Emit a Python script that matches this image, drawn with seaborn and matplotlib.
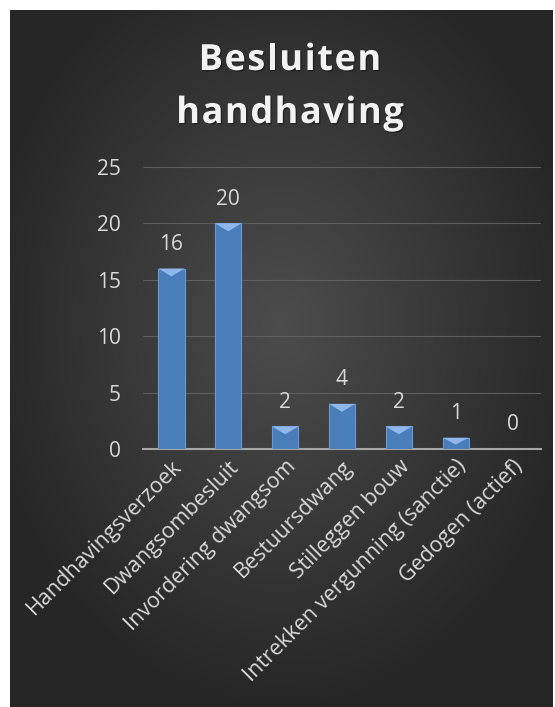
import numpy as np
import pandas as pd
import seaborn as sns
import matplotlib.pyplot as plt
import matplotlib.patheffects as pe
from matplotlib.patches import Polygon

# Data
categories = ["Handhavingsverzoek", "Dwangsombesluit", "Invordering dwangsom",
              "Bestuursdwang", "Stilleggen bouw", "Intrekken vergunning (sanctie)",
              "Gedogen (actief)"]
values = [16, 20, 2, 4, 2, 1, 0]
yticks = [0, 5, 10, 15, 20, 25]
title_lines = ["Besluiten", "handhaving"]

df = pd.DataFrame({"categorie": categories, "aantal": values})

sns.set_style("dark")
plt.rcParams['font.family'] = ['Open Sans', 'DejaVu Sans']

W, H = 555, 707
fig = plt.figure(figsize=(W / 100, H / 100), dpi=100)
fig.patch.set_facecolor("white")

# Dark radial background
bg = fig.add_axes([10 / W, 0, 543 / W, 697 / H])
yy, xx = np.mgrid[-1:1:300j, -1:1:300j]
r = np.sqrt((xx * 0.9) ** 2 + ((yy + 0.1) * 0.9) ** 2)
shade = np.clip(0.30 - 0.15 * r, 0.15, 0.30)
bg.imshow(np.dstack([shade] * 3), aspect="auto", extent=[0, 1, 0, 1])
bg.set_axis_off()

ax = fig.add_axes([143 / W, 1 - 449 / H, 398 / W, 282 / H])
ax.set_facecolor("none")
sns.barplot(data=df, x="categorie", y="aantal", color="#4a7ebb", width=0.46,
            saturation=1, ax=ax, zorder=3)

for p in ax.patches:
    p.set_edgecolor("#6d9ad6")
    p.set_linewidth(0.8)
    x0, w, h = p.get_x(), p.get_width(), p.get_height()
    if h > 0:
        d = min(0.7, h * 0.6)
        tri = Polygon([(x0, h), (x0 + w, h), (x0 + w * 0.5, h - d)],
                      closed=True, facecolor="#8fb7ea", edgecolor="none", zorder=4)
        ax.add_patch(tri)

for i, v in enumerate(values):
    ax.text(i, v + 1.2, str(v), ha="center", va="bottom", color="#d9d9d9", fontsize=15)

ax.set_ylim(0, 25)
ax.set_xlim(-0.5, len(categories) - 0.5)
ax.set_yticks(yticks)
ax.set_yticklabels([str(t) for t in yticks], color="#d9d9d9", fontsize=15)
ax.set_xticks(range(len(categories)))
ax.set_xticklabels(categories, rotation=45, ha="right", rotation_mode="anchor",
                   color="#d9d9d9", fontsize=15.5)
ax.tick_params(axis="x", length=0, pad=5)
ax.tick_params(axis="y", length=0, pad=16)
ax.set_xlabel("")
ax.set_ylabel("")
ax.grid(axis="y", color="#5e5e5e", linewidth=0.8, zorder=0)
ax.grid(axis="x", visible=False)
for s in ["top", "right", "left"]:
    ax.spines[s].set_visible(False)
ax.spines["bottom"].set_color("#a6a6a6")
ax.spines["bottom"].set_linewidth(1.5)

# Title with letter spacing, placed character by character
renderer = fig.canvas.get_renderer()
shadow = [pe.withSimplePatchShadow(offset=(1, -1), shadow_rgbFace="black", alpha=0.35)]
title_props = dict(color="#f2f2f2", fontsize=26, fontweight="bold", va="baseline", ha="left")
baselines = [70, 123]
tracking = 1.5
for line, base in zip(title_lines, baselines):
    widths = []
    for ch in line:
        t = fig.text(0, 0, ch, **title_props)
        widths.append(t.get_window_extent(renderer).width)
        t.remove()
    total = sum(widths) + tracking * (len(line) - 1)
    x = 290 - total / 2
    for ch, w in zip(line, widths):
        fig.text(x / W, 1 - base / H, ch, path_effects=shadow, **title_props)
        x += w + tracking

fig.savefig("out.png", dpi=100)
